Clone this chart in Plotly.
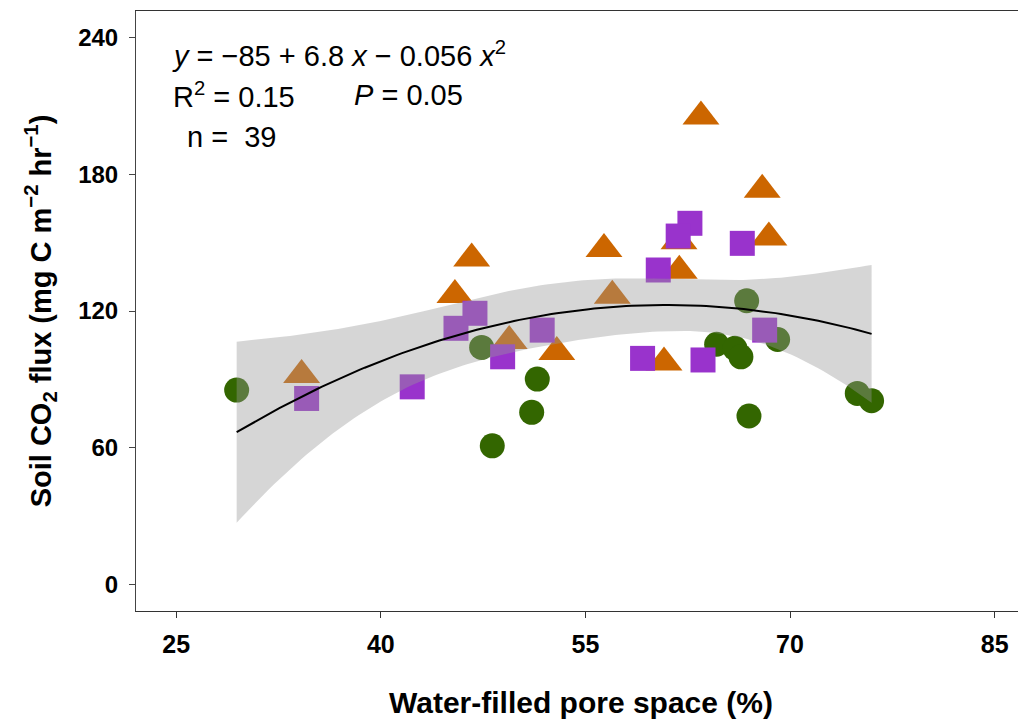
import numpy as np
import plotly.graph_objects as go

# Data
circle_x = [29.43, 47.39, 51.47, 51.06, 48.17, 64.62, 65.96, 66.40, 66.82, 69.09, 66.99, 74.93, 75.98]
circle_y = [85.3, 104.0, 90.1, 75.5, 60.8, 105.4, 103.6, 99.9, 124.5, 107.5, 73.9, 83.8, 80.6]

triangle_x = [34.19, 46.66, 45.43, 49.41, 52.9, 63.47, 67.96, 68.45, 61.86, 61.88, 56.36, 56.97, 60.76]
triangle_y = [91.9, 143.1, 127.0, 106.8, 102.0, 205.4, 173.2, 152.3, 150.6, 137.7, 147.2, 126.7, 97.4]

square_x = [34.56, 42.30, 46.90, 45.51, 48.93, 51.83, 66.5, 62.66, 61.8, 60.34, 59.19, 63.62, 68.14]
square_y = [81.6, 86.7, 119.0, 112.4, 99.9, 111.6, 149.7, 158.5, 152.9, 138.0, 99.2, 98.5, 111.6]

x_ticks = [25, 40, 55, 70, 85]
y_ticks = [0, 60, 120, 180, 240]

eq_text = "<i>y</i> = \u221285 + 6.8 <i>x</i> \u2212 0.056 <i>x</i><sup>2</sup>"
r2_text = "R<sup>2</sup> = 0.15"
p_text = "<i>P</i> = 0.05"
n_text = "n =  39"

# Quadratic fit with 95% confidence band (computed from the points)
xa = np.array(circle_x + triangle_x + square_x)
ya = np.array(circle_y + triangle_y + square_y)
X = np.column_stack([np.ones_like(xa), xa, xa ** 2])
beta, *_ = np.linalg.lstsq(X, ya, rcond=None)
resid = ya - X @ beta
dof = len(xa) - 3
sigma2 = resid @ resid / dof
XtX_inv = np.linalg.inv(X.T @ X)
t_crit = 2.028
xs = np.linspace(xa.min(), xa.max(), 120)
G = np.column_stack([np.ones_like(xs), xs, xs ** 2])
yhat = G @ beta
se = np.sqrt(np.einsum("ij,jk,ik->i", G, XtX_inv, G) * sigma2)
lo = yhat - t_crit * se
hi = yhat + t_crit * se

fig = go.Figure()
fig.add_trace(go.Scatter(x=circle_x, y=circle_y, mode="markers",
                         marker=dict(symbol="circle", size=25, color="#336600", line=dict(width=0)),
                         showlegend=False))
fig.add_trace(go.Scatter(x=triangle_x, y=triangle_y, mode="markers",
                         marker=dict(symbol="triangle-up", size=32, color="#CC6600", line=dict(width=0)),
                         showlegend=False))
fig.add_trace(go.Scatter(x=square_x, y=square_y, mode="markers",
                         marker=dict(symbol="square", size=25, color="#9933CC", line=dict(width=0)),
                         showlegend=False))
fig.add_trace(go.Scatter(x=np.concatenate([xs, xs[::-1]]), y=np.concatenate([hi, lo[::-1]]),
                         mode="lines", fill="toself", fillcolor="rgba(153,153,153,0.4)",
                         line=dict(width=0), hoverinfo="skip", showlegend=False))
fig.add_trace(go.Scatter(x=xs, y=yhat, mode="lines", line=dict(color="black", width=2),
                         showlegend=False))

font_main = "Liberation Sans, Arial, sans-serif"

# The page body adds an 8 px offset; the figure is sized to fill the rest of the window.
fig.update_layout(
    width=1018, height=715,
    margin=dict(l=128, r=0, t=3, b=112),
    paper_bgcolor="white", plot_bgcolor="white",
    font=dict(family=font_main, color="black"),
    xaxis=dict(range=[22.05, 87.3], tickvals=x_ticks, ticktext=[str(v) for v in x_ticks],
               automargin=False,
               showgrid=False, zeroline=False, showline=True, linecolor="#333333", linewidth=1.3,
               mirror=True, ticks="outside", ticklen=6, tickcolor="#333333",
               tickfont=dict(size=25, family=font_main, color="black", weight="bold"),
               ticklabelstandoff=5,
               title=dict(text="<b>Water-filled pore space (%)</b>", font=dict(size=30, family=font_main),
                          standoff=34)),
    yaxis=dict(range=[-11.7, 251.7], tickvals=y_ticks, ticktext=[str(v) for v in y_ticks],
               automargin=False,
               showgrid=False, zeroline=False, showline=True, linecolor="#444444", linewidth=1,
               mirror=False, ticks="outside", ticklen=6, tickcolor="#444444",
               tickfont=dict(size=24, family=font_main, color="black", weight="bold"),
               ticklabelstandoff=6,
               title=dict(text="<b>Soil CO<sub>2</sub> flux (mg C m<sup>\u22122</sup> hr<sup>\u22121</sup>)</b>",
                          font=dict(size=29, family=font_main), standoff=18)),
    annotations=[
        dict(text=eq_text, xref="paper", yref="paper", x=(170 - 136) / 890, y=1 - (54 - 11) / 600,
             xanchor="left", yanchor="middle", showarrow=False, font=dict(size=29, family=font_main)),
        dict(text=r2_text, xref="paper", yref="paper", x=(171 - 136) / 890, y=1 - (95 - 11) / 600,
             xanchor="left", yanchor="middle", showarrow=False, font=dict(size=29, family=font_main)),
        dict(text=p_text, xref="paper", yref="paper", x=(352 - 136) / 890, y=1 - (95 - 11) / 600,
             xanchor="left", yanchor="middle", showarrow=False, font=dict(size=29, family=font_main)),
        dict(text=n_text, xref="paper", yref="paper", x=(185 - 136) / 890, y=1 - (137 - 11) / 600,
             xanchor="left", yanchor="middle", showarrow=False, font=dict(size=29, family=font_main)),
    ],
)

fig.write_html("out.html")
